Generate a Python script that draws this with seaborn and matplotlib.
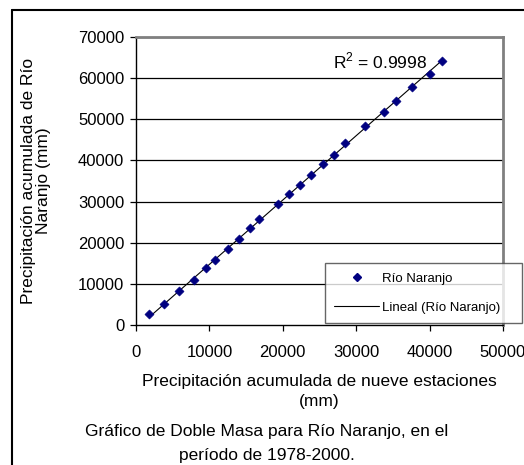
import numpy as np
import pandas as pd
import matplotlib
matplotlib.use('Agg')
import matplotlib.pyplot as plt
import seaborn as sns
from matplotlib.lines import Line2D

# precipitacion acumulada 1978-2000
x_nueve = [1810, 3820, 5910, 7950, 9550, 10770, 12500, 14050, 15550, 16730,
           19320, 20900, 22410, 23910, 25460, 27000, 28500, 31140, 33730,
           35360, 37640, 40000, 41640]
y_naranjo = [2600, 5100, 8250, 10920, 13760, 15780, 18370, 20800, 23460, 25650,
             29440, 31720, 34050, 36400, 39150, 41430, 44170, 48300, 51770,
             54440, 57840, 61090, 64250]
xticks = [0, 10000, 20000, 30000, 40000, 50000]
yticks = [0, 10000, 20000, 30000, 40000, 50000, 60000, 70000]
r2_text = 'R$^2$ = 0.9998'

df = pd.DataFrame({'x': x_nueve, 'y': y_naranjo})

sns.set_style('white')
plt.rcParams['font.family'] = ['Liberation Sans', 'DejaVu Sans']
plt.rcParams['text.color'] = 'black'
plt.rcParams['axes.labelcolor'] = 'black'
plt.rcParams['mathtext.fontset'] = 'custom'
plt.rcParams['mathtext.rm'] = 'Liberation Sans'

fig = plt.figure(figsize=(5.24, 4.65), dpi=100)
ax = fig.add_axes([136/524, 1-325/465, 367/524, 288/465])

for t in yticks[1:]:
    ax.axhline(t, color='black', lw=0.9, zorder=0)

sns.regplot(x='x', y='y', data=df, ax=ax, scatter=False, ci=None, truncate=True,
            line_kws={'color': 'black', 'lw': 0.8})
sns.scatterplot(x='x', y='y', data=df, ax=ax, marker='D', color='#000080',
                edgecolor='#000080', s=22, zorder=3)

ax.set_xlim(0, 50000)
ax.set_ylim(0, 70000)
ax.set_xticks(xticks)
ax.set_yticks(yticks)
ax.tick_params(axis='both', direction='out', length=4.5, width=0.9, labelsize=12,
               colors='black', bottom=True, left=True)
ax.tick_params(axis='x', pad=10)
ax.tick_params(axis='y', pad=4)

for s in ['left', 'bottom']:
    ax.spines[s].set_color('black')
    ax.spines[s].set_linewidth(1.0)
for s in ['top', 'right']:
    ax.spines[s].set_color('#808080')
    ax.spines[s].set_linewidth(2.0)

ax.set_xlabel('Precipitación acumulada de nueve estaciones\n(mm)', fontsize=12.5,
              linespacing=1.4, labelpad=10)
ax.set_ylabel('Precipitación acumulada de Río\nNaranjo (mm)', fontsize=12.5,
              linespacing=1.0, labelpad=19)

ax.text(26900, 62300, r2_text, fontsize=12.5, va='baseline')

handles = [Line2D([], [], ls='none', marker='D', color='#000080', markersize=4.5),
           Line2D([], [], color='black', lw=0.8)]
leg = ax.legend(handles, ['Río Naranjo', 'Lineal (Río Naranjo)'], loc='lower left',
                bbox_to_anchor=(0.515, 0.006, 0.537, 0.206), mode='expand',
                borderaxespad=0, fontsize=9.5, frameon=True, fancybox=False,
                handlelength=3.4, handletextpad=0.2, labelspacing=1.3,
                borderpad=0.7)
leg.get_frame().set_edgecolor('#404040')
leg.get_frame().set_linewidth(1.0)
leg.set_zorder(5)

fig.text(267/524, 1-431/465, 'Gráfico de Doble Masa para Río Naranjo, en el',
         ha='center', va='center', fontsize=12.5)
fig.text(267/524, 1-455/465, 'período de 1978-2000.', ha='center', va='center',
         fontsize=12.5)

# marco exterior
fig.add_artist(Line2D([12/524, 12/524], [0, 1-10/465], color='black', lw=1.5,
                      transform=fig.transFigure))
fig.add_artist(Line2D([12/524, 1], [1-10/465, 1-10/465], color='black', lw=1.5,
                      transform=fig.transFigure))

fig.savefig('out.png', dpi=100)
